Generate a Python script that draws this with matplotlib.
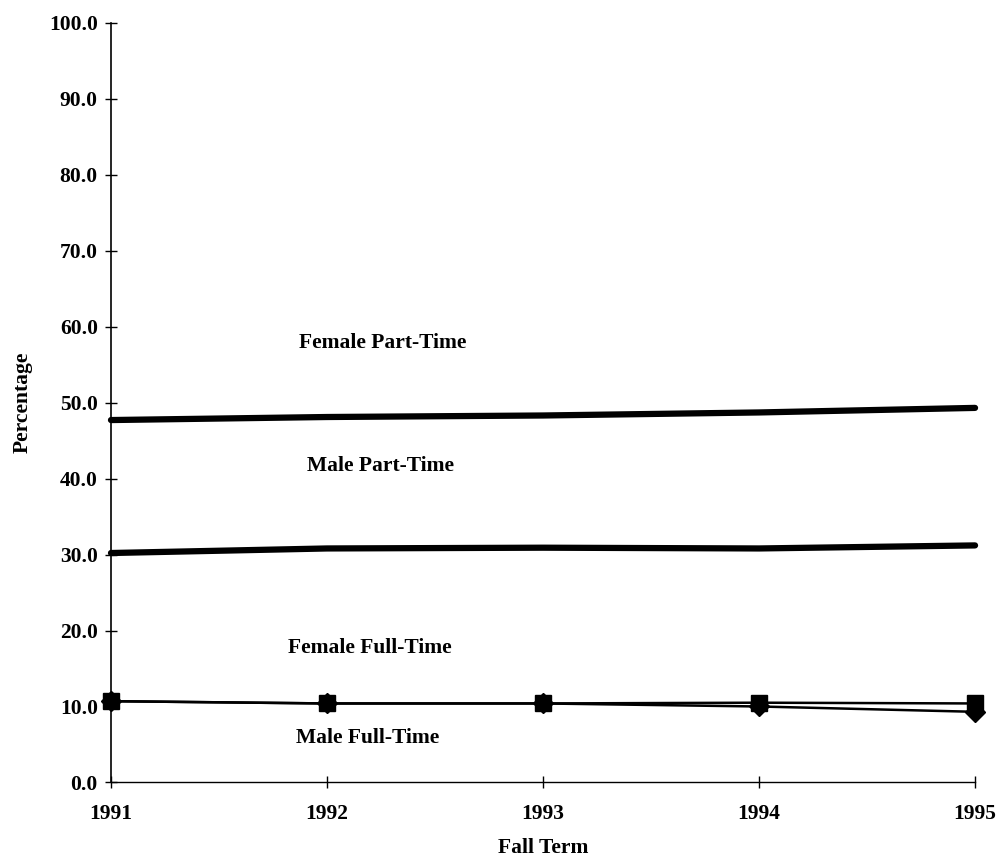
import matplotlib
matplotlib.use("Agg")
import matplotlib.pyplot as plt
from matplotlib.ticker import FormatStrFormatter

years = [1991, 1992, 1993, 1994, 1995]
female_pt = [47.7, 48.1, 48.3, 48.7, 49.3]
male_pt = [30.2, 30.8, 30.9, 30.8, 31.2]
female_ft = [10.7, 10.4, 10.4, 10.5, 10.4]
male_ft = [10.7, 10.4, 10.4, 10.0, 9.3]

labels = ["Female Part-Time", "Male Part-Time", "Female Full-Time", "Male Full-Time"]
label_x = [1992.26, 1992.25, 1992.20, 1992.19]
label_y = [57.8, 41.6, 17.7, 5.9]

plt.rcParams['font.family'] = ['Liberation Serif', 'DejaVu Serif']
plt.rcParams['font.weight'] = 'bold'

FS = 15.5

fig = plt.figure(figsize=(9.98, 8.56), dpi=100)
ax = fig.add_axes([0.1112, 0.0859, 0.977 - 0.1112, 0.9735 - 0.0859])

ax.plot(years, female_pt, color='black', lw=4.5, solid_capstyle='round', clip_on=False)
ax.plot(years, male_pt, color='black', lw=4.5, solid_capstyle='round', clip_on=False)
ax.plot(years, male_ft, color='black', lw=1.8, marker='D', markersize=10, clip_on=False, zorder=3)
ax.plot(years, female_ft, color='black', lw=1.8, marker='s', markersize=12, clip_on=False, zorder=4)

for t, x, y in zip(labels, label_x, label_y):
    ax.text(x, y, t, ha='center', va='center', fontsize=FS, fontweight='bold')

ax.set_xlim(1991, 1995)
ax.set_ylim(0, 100)
ax.set_xticks(years)
ax.set_yticks(range(0, 101, 10))
ax.yaxis.set_major_formatter(FormatStrFormatter('%.1f'))

for s in ['top', 'right']:
    ax.spines[s].set_visible(False)
ax.spines['left'].set_linewidth(1.2)
ax.spines['bottom'].set_linewidth(1.0)

ax.tick_params(axis='y', direction='inout', length=9, width=1.0, pad=5, labelsize=FS)
ax.tick_params(axis='x', direction='inout', length=9, width=1.0, pad=11, labelsize=FS)
for lab in ax.get_xticklabels() + ax.get_yticklabels():
    lab.set_fontweight('bold')

ax.set_xlabel("Fall Term", fontsize=FS, fontweight='bold', labelpad=10)
ax.set_ylabel("Percentage", fontsize=FS, fontweight='bold', labelpad=12)

fig.savefig("out.png", dpi=100)
